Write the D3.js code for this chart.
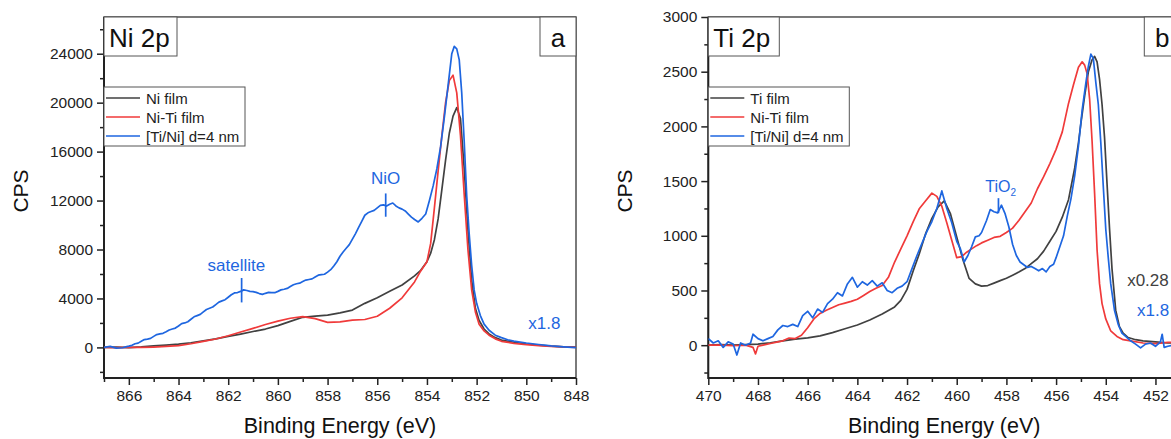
<!DOCTYPE html>
<html>
<head>
<meta charset="utf-8">
<script src="https://cdn.jsdelivr.net/npm/d3@7"></script>
<style>
  body { margin: 0; background: #fff; }
  svg { display: block; font-family: 'Liberation Sans', Arial, sans-serif; }
</style>
</head>
<body>
<svg id="chart" width="1171" height="439"></svg>
<script>
/* ========================================
   XPS spectra - Ni 2p (a) and Ti 2p (b)
   ======================================== */

// --- Ni 2p panel: [binding energy eV, CPS] ---
const niFilm = [
    [867,0],[866.5,20],[866,-10],[865.5,40],[865,120],[864.5,190],[864,270],[863.5,380],
    [863,540],[862.5,700],[862,900],[861.5,1090],[861,1300],[860.5,1500],[860,1780],
    [859.5,2130],[859,2460],[858.5,2560],[858,2640],[857.5,2820],[857,3050],[856.5,3600],
    [856,4050],[855.5,4580],[855,5100],[854.5,5850],[854.25,6300],[854,7000],[853.85,7700],
    [853.7,8800],[853.55,10500],[853.4,12900],[853.25,15300],[853.1,17500],[852.95,18900],
    [852.8,19600],[852.65,18700],[852.5,14600],[852.35,9600],[852.2,5500],[852.05,3200],
    [851.9,2200],[851.7,1500],[851.5,1100],[851.25,800],[851,600],[850.5,420],[850,280],
    [849.5,180],[849,100],[848.5,50],[848,20]
];
const niTiFilmNi = [
    [867,0],[866.5,-20],[866,10],[865.5,0],[865,30],[864.5,80],[864,150],[863.5,300],
    [863,490],[862.5,690],[862,950],[861.5,1260],[861,1560],[860.5,1870],[860,2150],
    [859.5,2380],[859,2520],[858.5,2350],[858,2050],[857.5,2080],[857,2230],[856.5,2280],
    [856,2550],[855.5,3200],[855,4050],[854.5,5350],[854.25,6250],[854,7000],[853.85,8500],
    [853.7,11400],[853.55,14400],[853.4,17300],[853.25,20000],[853.1,21800],[852.95,22250],
    [852.8,20800],[852.65,17300],[852.5,12500],[852.35,8000],[852.2,4700],[852.05,2900],
    [851.9,1900],[851.7,1350],[851.5,1000],[851.25,700],[851,500],[850.5,330],[850,220],
    [849.5,150],[849,90],[848.5,40],[848,10]
];
const multilayerNi = [
    [867,0],[866.75,80],[866.5,-60],[866.25,-30],[866.125,40],[866,100],[865.875,170],
    [865.75,300],[865.625,350],[865.5,500],[865.375,640],[865.25,680],[865.125,740],
    [865,900],[864.875,1050],[864.75,1100],[864.625,1150],[864.5,1280],[864.375,1420],
    [864.25,1500],[864.125,1580],[864,1750],[863.875,1950],[863.75,2000],[863.625,2100],
    [863.5,2300],[863.375,2500],[863.25,2600],[863.125,2700],[863,2900],[862.875,3100],
    [862.75,3200],[862.625,3300],[862.5,3500],[862.375,3700],[862.25,3800],[862.125,3900],
    [862,4100],[861.875,4300],[861.75,4450],[861.625,4480],[861.5,4580],[861.375,4700],
    [861.25,4650],[861.125,4580],[861,4560],[860.875,4500],[860.75,4400],[860.625,4330],
    [860.5,4420],[860.375,4500],[860.25,4480],[860.125,4470],[860,4580],[859.875,4700],
    [859.75,4750],[859.625,4820],[859.5,4980],[859.375,5120],[859.25,5200],[859.125,5250],
    [859,5380],[858.875,5500],[858.75,5550],[858.625,5600],[858.5,5750],[858.375,5900],
    [858.25,5950],[858.125,5980],[858,6150],[857.875,6350],[857.75,6650],[857.625,7000],
    [857.5,7450],[857.375,7800],[857.25,8100],[857.125,8400],[857,8850],[856.875,9300],
    [856.75,9800],[856.625,10300],[856.5,10800],[856.375,11000],[856.25,11100],[856.125,11200],
    [856,11400],[855.875,11600],[855.75,11650],[855.625,11550],[855.5,11700],[855.375,11800],
    [855.25,11560],[855.125,11400],[855,11300],[854.875,11150],[854.75,10900],[854.625,10650],
    [854.5,10450],[854.35,10250],[854.2,10550],[854.05,10900],[853.9,12000],
    [853.75,13200],[853.6,14600],[853.45,16400],[853.3,18800],[853.15,21400],[853,24000],
    [852.9,24600],[852.8,24400],[852.7,23500],[852.6,20800],[852.5,16800],[852.4,12400],
    [852.3,9300],[852.2,6700],[852.1,4700],[852,3600],[851.85,2600],[851.7,1900],[851.5,1400],
    [851.25,1000],[851,800],[850.75,620],[850.5,520],[850,360],[849.5,240],[849,120],
    [848.5,40],[848,-20]
];

// --- Ti 2p panel: [binding energy eV, CPS] ---
const tiFilm = [
    [470,0],[469.5,5],[469,0],[468.5,5],[468,10],[467.5,22],[467,40],[466.5,55],[466,67],
    [465.5,85],[465,115],[464.5,150],[464,185],[463.5,230],[463,285],[462.5,350],[462.25,410],
    [462,510],[461.75,680],[461.5,840],[461.25,1020],[461,1160],[460.75,1265],[460.5,1320],
    [460.25,1200],[460,990],[459.75,780],[459.5,610],[459.25,560],[459,540],[458.75,545],
    [458.5,567],[458.25,590],[458,612],[457.75,640],[457.5,668],[457.25,700],[457,745],
    [456.75,790],[456.5,860],[456.25,950],[456,1040],[455.75,1170],[455.5,1330],[455.25,1620],
    [455.1,1850],[455,2030],[454.85,2280],[454.7,2500],[454.55,2610],[454.45,2640],[454.35,2590],
    [454.25,2430],[454.15,2200],[454.05,1900],[453.95,1480],[453.85,1070],[453.75,700],
    [453.6,320],[453.45,170],[453.3,110],[453.1,70],[452.8,50],[452.5,40],[452,30],
    [451.5,20],[451,20]
];
const niTiFilmTi = [
    [470,0],[469.5,0],[469,-5],[468.5,0],[468.2,-20],[468.1,-80],[468,-10],[467.8,0],
    [467.5,15],[467.2,30],[467,40],[466.75,65],[466.5,60],[466.25,90],[466,160],[465.75,240],
    [465.5,290],[465.25,320],[465,345],[464.75,370],[464.5,385],[464.25,400],[464,420],
    [463.75,455],[463.5,490],[463.25,520],[463,545],[462.75,620],[462.5,760],[462.25,880],
    [462,1000],[461.75,1130],[461.5,1250],[461.25,1320],[461,1390],[460.8,1360],[460.6,1270],
    [460.4,1120],[460.2,960],[460,800],[459.8,810],[459.6,850],[459.4,880],[459.2,910],
    [459,935],[458.75,960],[458.5,985],[458.25,995],[458,1030],[457.75,1070],[457.5,1140],
    [457.25,1220],[457,1300],[456.75,1430],[456.5,1540],[456.25,1660],[456,1790],[455.75,1950],
    [455.5,2210],[455.3,2380],[455.1,2540],[454.95,2590],[454.85,2560],[454.75,2480],
    [454.65,2250],[454.55,1860],[454.45,1390],[454.35,870],[454.25,560],[454.15,380],
    [454,240],[453.8,130],[453.55,80],[453.3,50],[453,40],[452.5,20],[452,15],[451.5,25],[451,30]
];
const multilayerTi = [
    [470,60],[469.8,20],[469.6,40],[469.4,-20],[469.2,30],[469,10],[468.85,-90],[468.7,20],
    [468.5,0],[468.3,20],[468.2,100],[468,60],[467.8,40],[467.6,60],[467.4,80],[467.2,140],
    [467,180],[466.8,170],[466.6,190],[466.4,170],[466.2,270],[466,310],[465.8,250],[465.6,330],
    [465.4,300],[465.2,380],[465,420],[464.8,480],[464.6,450],[464.4,560],[464.2,620],[464,530],
    [463.8,580],[463.6,550],[463.4,590],[463.2,540],[463,570],[462.8,500],[462.6,480],[462.4,520],
    [462.2,540],[462,580],[461.8,700],[461.6,820],[461.4,930],[461.2,1040],[461,1130],[460.8,1250],
    [460.6,1410],[460.4,1250],[460.2,1120],[460,950],[459.85,880],[459.7,760],[459.55,820],
    [459.4,900],[459.25,990],[459.1,1000],[459,1030],[458.8,1140],[458.65,1240],[458.5,1220],
    [458.35,1210],[458.2,1280],[458.05,1200],[457.9,1080],[457.75,920],[457.6,820],[457.45,760],
    [457.3,735],[457.15,710],[457,720],[456.85,700],[456.7,680],[456.55,700],[456.4,670],
    [456.25,720],[456.1,740],[456,800],[455.85,900],[455.7,1000],[455.55,1180],[455.4,1340],
    [455.25,1550],[455.1,1820],[454.95,2150],[454.8,2400],[454.7,2550],[454.6,2660],[454.5,2620],
    [454.4,2400],[454.3,2200],[454.2,1850],[454.1,1450],[454,1060],[453.9,800],[453.8,560],
    [453.65,320],[453.5,190],[453.35,110],[453.2,80],[453,40],[452.8,10],[452.6,-25],[452.4,10],
    [452.2,20],[452,-10],[451.8,30],[451.73,100],[451.65,-20],[451.5,-10],[451.3,0],[451,10]
];

// Legend labels
const niLegend = ['Ni film', 'Ni-Ti film', '[Ti/Ni] d=4 nm'];
const tiLegend = ['Ti film', 'Ni-Ti film', '[Ti/Ni] d=4 nm'];

// Tick values
const niXMajor = d3.range(866, 847, -2);
const niXMinor = d3.range(867, 848, -2);
const niYMajor = [0, 4000, 8000, 12000, 16000, 20000, 24000];
const niYMinor = [-2000, 2000, 6000, 10000, 14000, 18000, 22000, 26000];
const tiXMajor = d3.range(470, 451, -2);
const tiXMinor = d3.range(469, 450, -2);
const tiYMajor = [0, 500, 1000, 1500, 2000, 2500, 3000];
const tiYMinor = [-250, 250, 750, 1250, 1750, 2250, 2750];

// Annotations (energy, cps) and marker bars [energy, cps from, cps to]
const niNotes = [
    { text: 'NiO', e: 855.66, v: 13390, anchor: 'middle', color: 'blue' },
    { text: 'satellite', e: 861.67, v: 6266, anchor: 'middle', color: 'blue' },
    { text: 'x1.8', e: 849.92, v: 1528, anchor: 'start', color: 'blue' }
];
const niMarks = [[855.66, 12582, 10678], [861.46, 5670, 3676]];
const tiNotes = [
    { text: 'x0.28', e: 453.14, v: 537, anchor: 'start', color: 'black' },
    { text: 'x1.8', e: 452.74, v: 263, anchor: 'start', color: 'blue' }
];
const tiMarks = [[458.32, 1344, 1207]];

const colors = { black: '#414141', red: '#f03a3a', blue: '#1e66e0' };

const svg = d3.select('#chart');
const plotTop = 17, plotBottom = 378, plotW = 472;

function drawPanel(cfg) {
    const x = d3.scaleLinear().domain(cfg.xDomain).range([cfg.left, cfg.left + plotW]);
    const y = d3.scaleLinear().domain(cfg.yDomain).range([plotBottom, plotTop]);
    const g = svg.append('g');

    // Clip for data
    g.append('clipPath').attr('id', cfg.id + '-clip')
        .append('rect')
        .attr('x', cfg.left).attr('y', plotTop)
        .attr('width', plotW).attr('height', plotBottom - plotTop);

    // Axes
    g.append('g').attr('transform', `translate(0,${plotBottom})`)
        .call(d3.axisBottom(x).tickValues(cfg.xMajor).tickSize(7).tickPadding(5).tickFormat(d3.format('d')));
    g.append('g').attr('transform', `translate(0,${plotBottom})`)
        .call(d3.axisBottom(x).tickValues(cfg.xMinor).tickSize(4).tickFormat(''));
    g.append('g').attr('transform', `translate(${cfg.left},0)`)
        .call(d3.axisLeft(y).tickValues(cfg.yMajor).tickSize(7).tickPadding(4).tickFormat(d3.format('d')));
    g.append('g').attr('transform', `translate(${cfg.left},0)`)
        .call(d3.axisLeft(y).tickValues(cfg.yMinor).tickSize(4).tickFormat(''));

    g.selectAll('.domain').remove();
    g.selectAll('.tick line').attr('stroke', '#222').attr('stroke-width', 1.5);
    g.selectAll('.tick text').attr('fill', '#222').style('font-size', '15.5px')
        .style('font-family', "'Liberation Sans', Arial, sans-serif");

    // Frame
    g.append('rect')
        .attr('x', cfg.left).attr('y', plotTop)
        .attr('width', plotW).attr('height', plotBottom - plotTop)
        .attr('fill', 'none').attr('stroke', '#222').attr('stroke-width', 1.2);
    g.append('path')
        .attr('d', `M${cfg.left},${plotTop}V${plotBottom}H${cfg.left + plotW}`)
        .attr('fill', 'none').attr('stroke', '#222').attr('stroke-width', 2);

    // Spectra (drawn from high to low binding energy)
    const line = d3.line().x(d => x(d[0])).y(d => y(d[1]));
    g.append('g').attr('clip-path', `url(#${cfg.id}-clip)`)
        .selectAll('path')
        .data(cfg.series)
        .join('path')
        .attr('d', d => line(d.data.slice().sort((a, b) => b[0] - a[0])))
        .attr('fill', 'none')
        .attr('stroke', d => colors[d.color])
        .attr('stroke-width', 1.7)
        .attr('stroke-linejoin', 'round');

    // Marker bars
    g.selectAll('.mark')
        .data(cfg.marks)
        .join('line')
        .attr('x1', d => x(d[0])).attr('x2', d => x(d[0]))
        .attr('y1', d => y(d[1])).attr('y2', d => y(d[2]))
        .attr('stroke', colors.blue).attr('stroke-width', 1.7);

    // Annotations
    g.selectAll('.note')
        .data(cfg.notes)
        .join('text')
        .attr('x', d => x(d.e)).attr('y', d => y(d.v))
        .attr('text-anchor', d => d.anchor)
        .attr('fill', d => colors[d.color])
        .style('font-size', '17px')
        .text(d => d.text);

    // Title box (top-left) and panel letter box (top-right)
    g.append('rect').attr('x', cfg.left).attr('y', plotTop)
        .attr('width', cfg.titleW).attr('height', 39)
        .attr('fill', '#fff').attr('stroke', '#555').attr('stroke-width', 1);
    g.append('text').attr('x', cfg.left + 5).attr('y', plotTop + 30)
        .style('font-size', '26px').attr('fill', '#111')
        .text(cfg.title);
    g.append('rect').attr('x', cfg.left + plotW - 36).attr('y', plotTop)
        .attr('width', 36).attr('height', 39)
        .attr('fill', '#fff').attr('stroke', '#555').attr('stroke-width', 1);
    g.append('text').attr('x', cfg.left + plotW - 18).attr('y', plotTop + 30)
        .attr('text-anchor', 'middle')
        .style('font-size', '26px').attr('fill', '#111')
        .text(cfg.letter);

    // Legend
    const lg = g.append('g').attr('transform', `translate(${cfg.left},87)`);
    lg.append('rect').attr('width', cfg.legendW).attr('height', 59)
        .attr('fill', '#fff').attr('stroke', '#555').attr('stroke-width', 1);
    const rows = lg.selectAll('.row')
        .data(cfg.series)
        .join('g')
        .attr('transform', (d, i) => `translate(0,${11 + i * 19})`);
    rows.append('line')
        .attr('x1', 2).attr('x2', 36)
        .attr('stroke', d => colors[d.color]).attr('stroke-width', 1.7);
    rows.append('text')
        .attr('x', 42).attr('y', 5.5)
        .style('font-size', '15px').attr('fill', '#222')
        .text((d, i) => cfg.legend[i]);

    // Axis titles
    g.append('text')
        .attr('transform', `translate(${cfg.left - 76},191) rotate(-90)`)
        .attr('text-anchor', 'middle')
        .style('font-size', '21px').attr('fill', '#111')
        .text('CPS');
    g.append('text')
        .attr('x', cfg.left + plotW / 2).attr('y', 433)
        .attr('text-anchor', 'middle')
        .style('font-size', '21.5px').attr('fill', '#111')
        .text('Binding Energy (eV)');

    return { x, y, g };
}

drawPanel({
    id: 'ni', left: 104, xDomain: [867, 848], yDomain: [-2500, 27000],
    xMajor: niXMajor, xMinor: niXMinor, yMajor: niYMajor, yMinor: niYMinor,
    series: [
        { data: niFilm, color: 'black' },
        { data: niTiFilmNi, color: 'red' },
        { data: multilayerNi, color: 'blue' }
    ],
    legend: niLegend, legendW: 141,
    title: 'Ni 2p', titleW: 73, letter: 'a',
    notes: niNotes, marks: niMarks
});

const ti = drawPanel({
    id: 'ti', left: 708.3, xDomain: [470, 451], yDomain: [-300, 3000],
    xMajor: tiXMajor, xMinor: tiXMinor, yMajor: tiYMajor, yMinor: tiYMinor,
    series: [
        { data: tiFilm, color: 'black' },
        { data: niTiFilmTi, color: 'red' },
        { data: multilayerTi, color: 'blue' }
    ],
    legend: tiLegend, legendW: 141,
    title: 'Ti 2p', titleW: 71, letter: 'b',
    notes: tiNotes, marks: tiMarks
});

// TiO2 label with subscript
const tio2 = ti.g.append('text')
    .attr('x', ti.x(458.85)).attr('y', ti.y(1396))
    .attr('fill', colors.blue)
    .style('font-size', '16px');
tio2.append('tspan').text('TiO');
tio2.append('tspan').attr('dy', 4).style('font-size', '10px').text('2');
</script>
</body>
</html>
